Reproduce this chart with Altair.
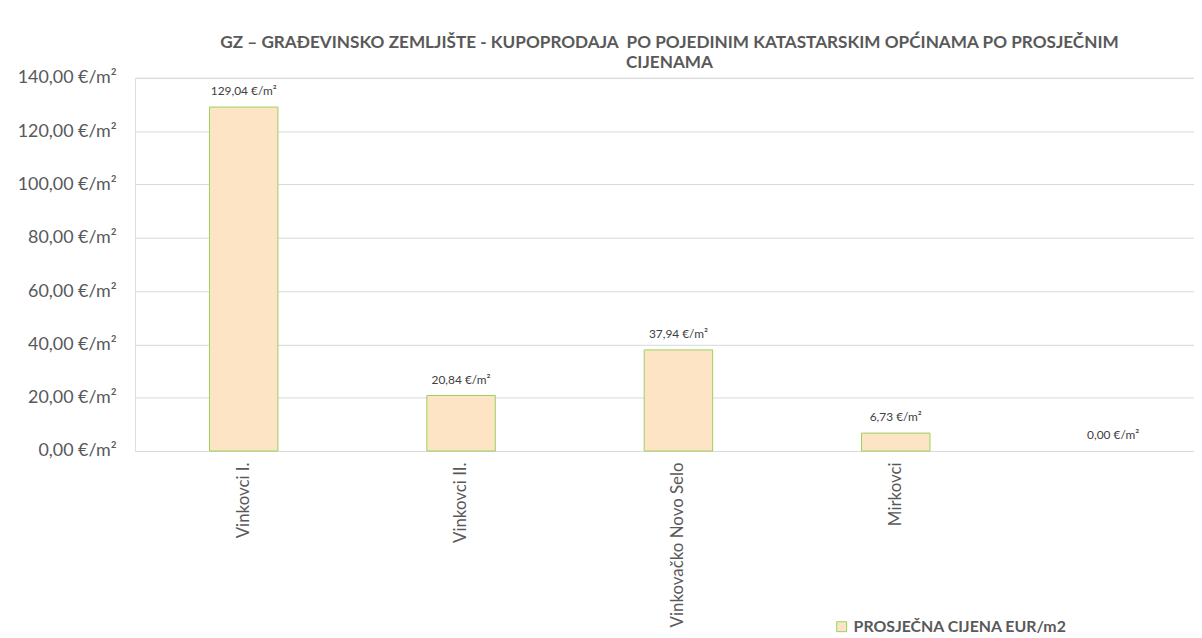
import altair as alt
import pandas as pd

categories = ["Vinkovci I.", "Vinkovci II.", "Vinkovačko Novo Selo", "Mirkovci", " "]
values = [129.04, 20.84, 37.94, 6.73, 0.00]
series_name = "PROSJEČNA CIJENA EUR/m2"
title_lines = [
    "GZ – GRAĐEVINSKO ZEMLJIŠTE - KUPOPRODAJA\u00a0 PO POJEDINIM KATASTARSKIM OPĆINAMA PO PROSJEČNIM",
    "CIJENAMA",
]
y_ticks = [0, 20, 40, 60, 80, 100, 120, 140]

df = pd.DataFrame({
    "cat": categories,
    "val": values,
    "series": [series_name] * len(categories),
    "lbl": [f"{v:.2f}".replace(".", ",") + " €/m²" for v in values],
})

FONT = "Lato"
GRAY = "#595959"

x_enc = alt.X(
    "cat:N",
    sort=categories,
    scale=alt.Scale(range=[0, 1095], paddingInner=0.685, paddingOuter=0.3425),
    axis=alt.Axis(
        title=None, labelAngle=270, labelFontSize=17, labelColor=GRAY, labelFont=FONT,
        labelPadding=11, ticks=False, domain=False, grid=False,
    ),
)
y_enc = alt.Y(
    "val:Q",
    scale=alt.Scale(domain=[0, 140], nice=False),
    axis=alt.Axis(
        title=None, values=y_ticks, labelFontSize=18, labelColor=GRAY, labelFont=FONT,
        labelPadding=19, ticks=False, domain=False, gridColor="#D9D9D9", gridWidth=1,
        labelExpr="replace(format(datum.value, '.2f'), '.', ',') + ' €/m²'",
    ),
)

bars = alt.Chart(df).mark_bar(stroke="#9BD15C", strokeWidth=1).encode(
    x=x_enc,
    y=y_enc,
    color=alt.Color(
        "series:N",
        scale=alt.Scale(range=["#FDE4C4"]),
        legend=alt.Legend(
            title=None, orient="none", legendX=704, legendY=545, symbolType="square",
            symbolSize=100, symbolStrokeColor="#9BD15C", symbolStrokeWidth=1,
            labelFont=FONT, labelFontSize=16, labelFontWeight="bold", labelColor=GRAY,
            labelOffset=4, labelLimit=0,
        ),
    ),
    strokeOpacity=alt.condition("datum.val > 0", alt.value(1), alt.value(0)),
)

labels = alt.Chart(df).mark_text(
    dy=-16, fontSize=12, color="#404040", font=FONT, baseline="middle"
).encode(x=x_enc, y=y_enc, text="lbl:N")

chart = (bars + labels).properties(
    width=1067,
    height=376,
    autosize=alt.AutoSizeParams(type="none"),
    padding={"left": 128, "top": 68, "right": 0, "bottom": 186},
    title=alt.Title(
        title_lines, anchor="middle", frame="group", fontSize=17.3, font=FONT,
        fontWeight="bold", color=GRAY, lineHeight=20, offset=-2, dx=5,
    ),
).configure_view(stroke=None).configure(background="white")

chart.save("out.html", embed_options={"renderer": "svg", "actions": False})
